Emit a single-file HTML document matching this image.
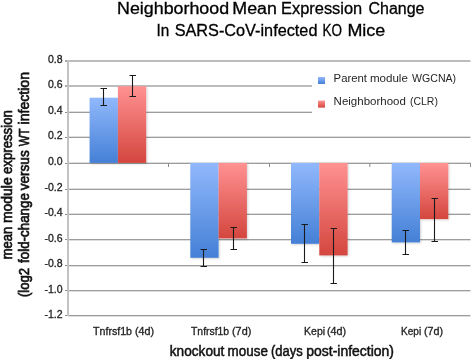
<!DOCTYPE html>
<html><head><meta charset="utf-8"><style>
html,body{margin:0;padding:0;background:#fff;}
body{position:relative;width:472px;height:359px;overflow:hidden;}
.ov{position:absolute;left:0;top:0;filter:grayscale(1);}
svg{display:block;font-family:"Liberation Sans",sans-serif;}
.g{stroke:#a0a0a0;stroke-width:1.3;}
.t{stroke:#808080;stroke-width:1.2;}
.e{stroke:#1a1a1a;stroke-width:1.1;fill:none;}
.yl{font-size:10.5px;fill:#222;stroke:#222;stroke-width:0.3px;text-anchor:end;}
.xl{font-size:10.5px;fill:#222;stroke:#222;stroke-width:0.3px;}
.tt{font-size:16px;fill:#000;stroke:#000;stroke-width:0.3px;}
.tt2{font-size:16px;fill:#000;stroke:#000;stroke-width:0.3px;}
.at{font-size:14px;fill:#111;stroke:#111;stroke-width:0.5px;}
.at2{font-size:14px;fill:#111;stroke:#111;stroke-width:0.65px;}
.lg{font-size:10.4px;fill:#262626;}

</style></head><body>
<svg width="472" height="359" viewBox="0 0 472 359">
<defs>
<filter id="sh" x="-10%" y="-10%" width="120%" height="120%"><feGaussianBlur in="SourceAlpha" stdDeviation="1"/><feComponentTransfer><feFuncA type="linear" slope="0.18"/></feComponentTransfer><feOffset dx="0.5" dy="0.5" result="s"/><feMerge><feMergeNode in="s"/><feMergeNode in="SourceGraphic"/></feMerge></filter>
<linearGradient id="b" x1="0" y1="0" x2="0" y2="1"><stop offset="0" stop-color="#91b8fc"/><stop offset="1" stop-color="#4480d6"/></linearGradient>
<linearGradient id="r" x1="0" y1="0" x2="0" y2="1"><stop offset="0" stop-color="#ff9292"/><stop offset="1" stop-color="#d4463e"/></linearGradient>
</defs>
<line x1="68" y1="61" x2="470.5" y2="61" stroke="#bcbcbc" stroke-width="2"/>
<line x1="65" y1="61" x2="68" y2="61" stroke="#a8a8a8" stroke-width="2"/>
<line x1="68" y1="86" x2="312" y2="86" stroke="#bcbcbc" stroke-width="2"/>
<line x1="65" y1="86" x2="68" y2="86" stroke="#a8a8a8" stroke-width="2"/>
<line x1="68" y1="112.5" x2="312" y2="112.5" stroke="#9c9c9c" stroke-width="1"/>
<line x1="68" y1="111.5" x2="312" y2="111.5" stroke="#dedede" stroke-width="1"/>
<line x1="65" y1="112.5" x2="68" y2="112.5" stroke="#8c8c8c" stroke-width="1"/>
<line x1="68" y1="137.5" x2="470.5" y2="137.5" stroke="#9c9c9c" stroke-width="1"/>
<line x1="68" y1="136.5" x2="470.5" y2="136.5" stroke="#dedede" stroke-width="1"/>
<line x1="65" y1="137.5" x2="68" y2="137.5" stroke="#8c8c8c" stroke-width="1"/>
<line x1="68" y1="163.5" x2="470.5" y2="163.5" stroke="#9c9c9c" stroke-width="1"/>
<line x1="68" y1="162.5" x2="470.5" y2="162.5" stroke="#dedede" stroke-width="1"/>
<line x1="65" y1="163.5" x2="68" y2="163.5" stroke="#8c8c8c" stroke-width="1"/>
<line x1="68" y1="189.5" x2="470.5" y2="189.5" stroke="#9c9c9c" stroke-width="1"/>
<line x1="68" y1="188.5" x2="470.5" y2="188.5" stroke="#dedede" stroke-width="1"/>
<line x1="65" y1="189.5" x2="68" y2="189.5" stroke="#8c8c8c" stroke-width="1"/>
<line x1="68" y1="214.5" x2="470.5" y2="214.5" stroke="#9c9c9c" stroke-width="1"/>
<line x1="68" y1="213.5" x2="470.5" y2="213.5" stroke="#dedede" stroke-width="1"/>
<line x1="65" y1="214.5" x2="68" y2="214.5" stroke="#8c8c8c" stroke-width="1"/>
<line x1="68" y1="239.5" x2="470.5" y2="239.5" stroke="#9c9c9c" stroke-width="1"/>
<line x1="68" y1="240.5" x2="470.5" y2="240.5" stroke="#dedede" stroke-width="1"/>
<line x1="65" y1="239.5" x2="68" y2="239.5" stroke="#8c8c8c" stroke-width="1"/>
<line x1="68" y1="265.5" x2="470.5" y2="265.5" stroke="#9c9c9c" stroke-width="1"/>
<line x1="68" y1="266.5" x2="470.5" y2="266.5" stroke="#dedede" stroke-width="1"/>
<line x1="65" y1="265.5" x2="68" y2="265.5" stroke="#8c8c8c" stroke-width="1"/>
<line x1="68" y1="290.5" x2="470.5" y2="290.5" stroke="#9c9c9c" stroke-width="1"/>
<line x1="68" y1="291.5" x2="470.5" y2="291.5" stroke="#dedede" stroke-width="1"/>
<line x1="65" y1="290.5" x2="68" y2="290.5" stroke="#8c8c8c" stroke-width="1"/>
<line x1="68" y1="315.5" x2="470.5" y2="315.5" stroke="#9c9c9c" stroke-width="1"/>
<line x1="68" y1="316.5" x2="470.5" y2="316.5" stroke="#dedede" stroke-width="1"/>
<line x1="65" y1="315.5" x2="68" y2="315.5" stroke="#8c8c8c" stroke-width="1"/>
<line x1="168.5" y1="163" x2="168.5" y2="167" stroke="#8c8c8c" stroke-width="1"/>
<line x1="269.5" y1="163" x2="269.5" y2="167" stroke="#8c8c8c" stroke-width="1"/>
<line x1="369.8" y1="163" x2="369.8" y2="167" stroke="#8c8c8c" stroke-width="1"/>
<line x1="470.5" y1="163" x2="470.5" y2="167" stroke="#8c8c8c" stroke-width="1"/>

<line x1="68" y1="60" x2="68" y2="316" stroke="#c2c2c2" stroke-width="2"/>
<g filter="url(#sh)"><rect x="89.60" y="97.70" width="28.30" height="65.20" fill="url(#b)"/>
<rect x="117.90" y="86.20" width="28.30" height="76.70" fill="url(#r)"/>
<rect x="190.30" y="162.90" width="28.30" height="94.90" fill="url(#b)"/>
<rect x="218.60" y="162.90" width="28.30" height="75.50" fill="url(#r)"/>
<rect x="291.00" y="162.90" width="28.30" height="80.90" fill="url(#b)"/>
<rect x="319.30" y="162.90" width="28.30" height="92.50" fill="url(#r)"/>
<rect x="391.70" y="162.90" width="28.30" height="79.50" fill="url(#b)"/>
<rect x="420.00" y="162.90" width="28.30" height="56.20" fill="url(#r)"/>
</g>
<path d="M100.50 88.50H107.00M103.50 88.50V105.50M100.50 105.50H107.00" class="e"/>
<path d="M129.50 75.50H136.00M132.50 75.50V96.50M129.50 96.50H136.00" class="e"/>
<path d="M200.50 249.50H207.00M203.50 249.50V266.50M200.50 266.50H207.00" class="e"/>
<path d="M230.50 227.50H237.00M233.50 227.50V249.50M230.50 249.50H237.00" class="e"/>
<path d="M301.50 224.50H308.00M304.50 224.50V262.50M301.50 262.50H308.00" class="e"/>
<path d="M330.50 228.50H337.00M333.50 228.50V283.50M330.50 283.50H337.00" class="e"/>
<path d="M402.50 230.50H409.00M405.50 230.50V254.50M402.50 254.50H409.00" class="e"/>
<path d="M431.50 198.50H438.00M434.50 198.50V241.50M431.50 241.50H438.00" class="e"/>

<rect x="318" y="77" width="7" height="7" fill="url(#b)"/>
<rect x="318" y="100.6" width="7" height="7" fill="url(#r)"/>
</svg>
<svg class="ov" width="472" height="359" viewBox="0 0 472 359">
<text x="62.6" y="63.00" class="yl">0.8</text>
<text x="62.6" y="88.00" class="yl">0.6</text>
<text x="62.6" y="114.20" class="yl">0.4</text>
<text x="62.6" y="139.30" class="yl">0.2</text>
<text x="62.6" y="165.20" class="yl">0.0</text>
<text x="62.6" y="191.10" class="yl">-0.2</text>
<text x="62.6" y="216.20" class="yl">-0.4</text>
<text x="62.6" y="241.50" class="yl">-0.6</text>
<text x="62.6" y="267.40" class="yl">-0.8</text>
<text x="62.6" y="292.60" class="yl">-1.0</text>
<text x="62.6" y="317.70" class="yl">-1.2</text>

<text id="t1" x="117.10" y="14.0" class="tt" textLength="111.95" lengthAdjust="spacingAndGlyphs">Neighborhood</text>
<text id="t2" x="232.30" y="14.0" class="tt" textLength="44.58" lengthAdjust="spacingAndGlyphs">Mean</text>
<text id="t3" x="281.00" y="14.0" class="tt" textLength="81.26" lengthAdjust="spacingAndGlyphs">Expression</text>
<text id="t4" x="368.50" y="14.0" class="tt" textLength="56.00" lengthAdjust="spacingAndGlyphs">Change</text>
<text id="t5" x="156.45" y="36.2" class="tt2" textLength="12.76" lengthAdjust="spacingAndGlyphs">In</text>
<text id="t6" x="174.65" y="36.2" class="tt2" textLength="142.81" lengthAdjust="spacingAndGlyphs">SARS-CoV-infected</text>
<text id="t7" x="322.50" y="36.2" class="tt2" textLength="19.52" lengthAdjust="spacingAndGlyphs">KO</text>
<text id="t8" x="347.40" y="36.2" class="tt2" textLength="37.87" lengthAdjust="spacingAndGlyphs">Mice</text>
<text id="x1" x="93.00" y="335.0" class="xl" textLength="39.04" lengthAdjust="spacingAndGlyphs">Tnfrsf1b</text>
<text id="x1b" x="135.00" y="335.0" class="xl" textLength="19.10" lengthAdjust="spacingAndGlyphs">(4d)</text>
<text id="x2" x="191.00" y="335.0" class="xl" textLength="38.16" lengthAdjust="spacingAndGlyphs">Tnfrsf1b</text>
<text id="x2b" x="232.00" y="335.0" class="xl" textLength="19.30" lengthAdjust="spacingAndGlyphs">(7d)</text>
<text id="x3" x="304.00" y="335.0" class="xl" textLength="21.08" lengthAdjust="spacingAndGlyphs">Kepi</text>
<text id="x3b" x="327.00" y="335.0" class="xl" textLength="19.13" lengthAdjust="spacingAndGlyphs">(4d)</text>
<text id="x4" x="401.00" y="335.0" class="xl" textLength="20.15" lengthAdjust="spacingAndGlyphs">Kepi</text>
<text id="x4b" x="424.00" y="335.0" class="xl" textLength="19.12" lengthAdjust="spacingAndGlyphs">(7d)</text>
<text id="l1" x="333.60" y="81.7" class="lg" textLength="33.41" lengthAdjust="spacingAndGlyphs">Parent</text>
<text id="l1b" x="369.90" y="81.7" class="lg" textLength="38.00" lengthAdjust="spacingAndGlyphs">module</text>
<text id="l1c" x="412.10" y="81.7" class="lg" textLength="44.05" lengthAdjust="spacingAndGlyphs">WGCNA)</text>
<text id="l2" x="333.60" y="105.3" class="lg" textLength="72.35" lengthAdjust="spacingAndGlyphs">Neighborhood</text>
<text id="l2b" x="410.00" y="105.3" class="lg" textLength="27.88" lengthAdjust="spacingAndGlyphs">(CLR)</text>
<text id="a1" x="169.80" y="356.0" class="at" textLength="54.53" lengthAdjust="spacingAndGlyphs">knockout</text>
<text id="a2" x="227.60" y="356.0" class="at" textLength="40.26" lengthAdjust="spacingAndGlyphs">mouse</text>
<text id="a3" x="271.00" y="356.0" class="at" textLength="31.59" lengthAdjust="spacingAndGlyphs">(days</text>
<text id="a4" x="306.30" y="356.0" class="at" textLength="87.65" lengthAdjust="spacingAndGlyphs">post-infection)</text>
<text id="y1" transform="translate(11.6 259.20) rotate(-90)" class="at2" textLength="32.33" lengthAdjust="spacingAndGlyphs">mean</text>
<text id="y1b" transform="translate(11.6 223.00) rotate(-90)" class="at2" textLength="45.66" lengthAdjust="spacingAndGlyphs">module</text>
<text id="y1c" transform="translate(11.6 174.10) rotate(-90)" class="at2" textLength="64.00" lengthAdjust="spacingAndGlyphs">expression</text>
<text id="y2" transform="translate(29.3 297.10) rotate(-90)" class="at2" textLength="29.14" lengthAdjust="spacingAndGlyphs">(log2</text>
<text id="y2b" transform="translate(29.3 262.90) rotate(-90)" class="at2" textLength="69.74" lengthAdjust="spacingAndGlyphs">fold-change</text>
<text id="y2c" transform="translate(29.3 190.20) rotate(-90)" class="at2" textLength="39.85" lengthAdjust="spacingAndGlyphs">versus</text>
<text id="y2d" transform="translate(29.3 146.30) rotate(-90)" class="at2" textLength="17.90" lengthAdjust="spacingAndGlyphs">WT</text>
<text id="y2e" transform="translate(29.3 124.50) rotate(-90)" class="at2" textLength="52.57" lengthAdjust="spacingAndGlyphs">infection</text>
</svg>
</body></html>
